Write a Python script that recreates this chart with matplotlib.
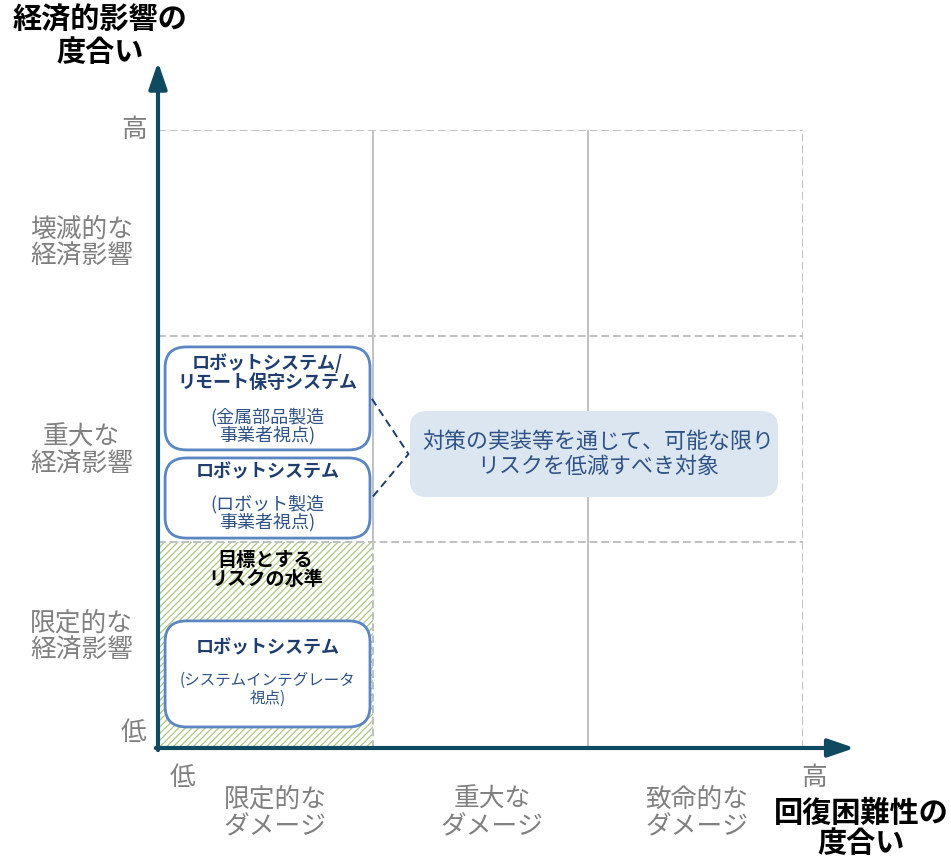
import matplotlib
matplotlib.use('Agg')
import matplotlib.pyplot as plt
from matplotlib.patches import FancyBboxPatch, Rectangle

plt.rcParams['font.family'] = ['Noto Sans CJK JP', 'DejaVu Sans']
plt.rcParams['hatch.linewidth'] = 0.9

# axis categories (low -> high)
x_levels = ['限定的な\nダメージ', '重大な\nダメージ', '致命的な\nダメージ']
y_levels = ['限定的な\n経済影響', '重大な\n経済影響', '壊滅的な\n経済影響']
x_title = '回復困難性の\n度合い'
y_title = '経済的影響の\n度合い'
low_label, high_label = '低', '高'

# boxes: (title, subtitle)
box_titles = ['ロボットシステム/\nリモート保守システム', 'ロボットシステム', 'ロボットシステム']
box_subs = ['(金属部品製造\n事業者視点)', '(ロボット製造\n事業者視点)', '(システムインテグレータ\n視点)']
target_label = '目標とする\nリスクの水準'
callout_text = '対策の実装等を通じて、可能な限り\nリスクを低減すべき対象'

AXIS_COLOR = '#0f4a60'
GRID_COLOR = '#c0c0c0'
TICK_COLOR = '#808080'
BOX_EDGE = '#5b86c2'
BOX_TITLE = '#1f3d6e'
BOX_SUB = '#2f5286'
HATCH_COLOR = '#abc981'
CALLOUT_FACE = '#dce6f1'

W, H = 951, 859
fig = plt.figure(figsize=(W / 100, H / 100), dpi=100)
fig.patch.set_facecolor('white')
ax = fig.add_axes([158 / W, 1 - 748 / H, (803 - 158) / W, (748 - 130) / H])
ax.set_xlim(0, 3)
ax.set_ylim(0, 3)
ax.axis('off')

n = len(x_levels)

# target-level hatched area (lowest cell)
ax.add_patch(Rectangle((0, 0), 1, 1, facecolor='white', edgecolor=HATCH_COLOR,
                       hatch='/////', linewidth=0, zorder=1))

# grid
dash = dict(color=GRID_COLOR, linewidth=1.4, linestyle=(0, (4, 2)), zorder=2)
for i in range(1, n + 1):
    ax.plot([0, n], [i, i], **dash)
ax.plot([n, n], [0, n], **dash)
ax.plot([0, n], [0, 0], **dash)
ax.plot([1, 1], [0, 1], **dash)
for i in range(1, n):
    ax.plot([i, i], [1 if i == 1 else 0, n], color=GRID_COLOR, linewidth=1.4, zorder=2)

# axes arrows
ax.annotate('', xy=(0, 3.33), xytext=(0, -0.01), annotation_clip=False,
            arrowprops=dict(arrowstyle='-|>,head_length=1.6,head_width=0.55',
                            color=AXIS_COLOR, lw=3, shrinkA=0, shrinkB=0), zorder=5)
ax.annotate('', xy=(3.24, 0), xytext=(-0.01, 0), annotation_clip=False,
            arrowprops=dict(arrowstyle='-|>,head_length=1.6,head_width=0.55',
                            color=AXIS_COLOR, lw=3, shrinkA=0, shrinkB=0), zorder=5)

# tick labels
y_label_pos = [0.54, 1.44, 2.45]
x_label_pos = [0.545, 1.553, 2.507]
for lab, yp in zip(y_levels, y_label_pos):
    ax.text(-0.355, yp, lab, ha='center', va='center', fontsize=18.5,
            color=TICK_COLOR, linespacing=1.05, clip_on=False)
for lab, xp in zip(x_levels, x_label_pos):
    ax.text(xp, -0.318, lab, ha='center', va='center', fontsize=18.5,
            color=TICK_COLOR, linespacing=1.05, clip_on=False)
ax.text(-0.113, 0.073, low_label, ha='center', va='center', fontsize=18.5, color=TICK_COLOR)
ax.text(-0.113, 3.0, high_label, ha='center', va='center', fontsize=18.5, color=TICK_COLOR)
ax.text(0.116, -0.146, low_label, ha='center', va='center', fontsize=18.5, color=TICK_COLOR)
ax.text(3.05, -0.146, high_label, ha='center', va='center', fontsize=18.5, color=TICK_COLOR)

# axis titles
ax.text(-0.27, 3.455, y_title, ha='center', va='center', fontsize=21, fontweight='bold',
        color='black', linespacing=1.1, clip_on=False)
ax.text(3.27, -0.39, x_title, ha='center', va='center', fontsize=21, fontweight='bold',
        color='black', linespacing=1.0, clip_on=False)

# boxes (y0, y1 in grid units)
box_spans = [(1.447, 1.947), (1.019, 1.408), (0.102, 0.617)]
title_centers = [1.822, 1.340, 0.485]
sub_centers = [1.563, 1.141, 0.286]
sub_sizes = [13.0, 13.0, 11.2]
for (y0, y1), t, s, ty, sy, fs in zip(box_spans, box_titles, box_subs,
                                      title_centers, sub_centers, sub_sizes):
    ax.add_patch(FancyBboxPatch((0.033, y0), 0.953, y1 - y0,
                                boxstyle='round,pad=0,rounding_size=0.1',
                                facecolor='white', edgecolor=BOX_EDGE, linewidth=2, zorder=4))
    ax.text(0.51, ty, t, ha='center', va='center', fontsize=13,
            fontweight='bold', color=BOX_TITLE, linespacing=1.05, zorder=6)
    ax.text(0.51, sy, s, ha='center', va='center', fontsize=fs,
            color=BOX_SUB, linespacing=0.95 * 13.0 / fs, zorder=6)

ax.text(0.5, 0.864, target_label, ha='center', va='center', fontsize=13.8,
        fontweight='bold', color='black', linespacing=1.0, zorder=6)

# callout
ax.add_patch(FancyBboxPatch((1.172, 1.218), 1.712, 0.418,
                            boxstyle='round,pad=0,rounding_size=0.08',
                            facecolor=CALLOUT_FACE, edgecolor='none', zorder=4))
ax.text(2.046, 1.427, callout_text, ha='center', va='center', fontsize=15.8,
        color=BOX_SUB, linespacing=1.2, zorder=6)
ax.plot([0.995, 1.165, 0.995], [1.695, 1.427, 1.215], color=BOX_TITLE,
        linewidth=1.4, linestyle=(0, (4, 2.5)), zorder=5)

fig.savefig('out.png', dpi=100, facecolor='white')
